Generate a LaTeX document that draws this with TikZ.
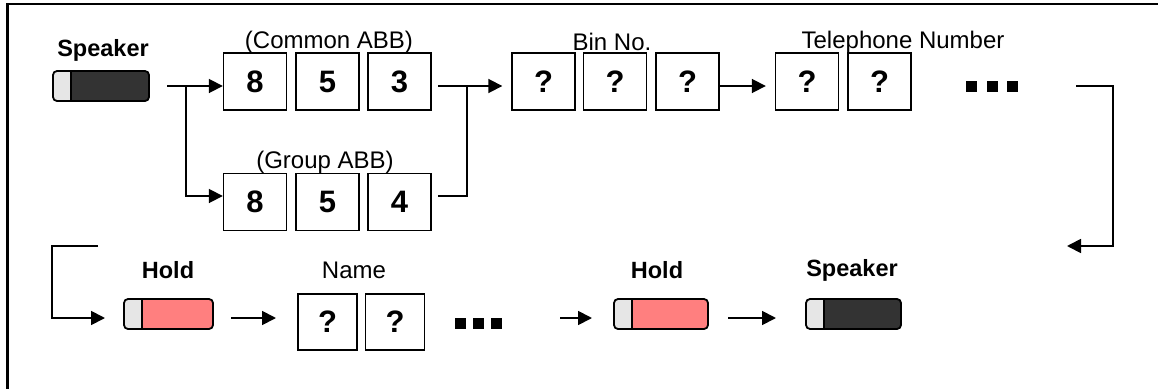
\documentclass[tikz,border=0pt]{standalone}
\usepackage{fontspec}
\setmainfont{Liberation Sans}
\usetikzlibrary{arrows.meta}
\definecolor{keylight}{HTML}{E6E6E6}
\definecolor{keydark}{HTML}{333333}
\definecolor{keyred}{HTML}{FF7F7F}
\tikzset{
  x=1pt, y=-1pt,
  lbl/.style={font=\fontsize{24}{24}\selectfont, inner sep=0pt},
  blbl/.style={font=\bfseries\fontsize{23.5}{23.5}\selectfont, inner sep=0pt},
  digit/.style={draw, line width=1.4pt, minimum width=63pt, minimum height=57pt,
    inner sep=0pt, font=\bfseries\fontsize{31}{31}\selectfont},
  namebox/.style={digit, minimum width=59pt, minimum height=56pt},
  key/.style={draw, line width=1.8pt, rounded corners=4pt, minimum height=30pt,
    inner sep=0pt,
    path picture={
      \fill[keylight] (path picture bounding box.south west) rectangle
        ([xshift=18pt]path picture bounding box.north west);
      \fill[#1] ([xshift=18pt]path picture bounding box.south west) rectangle
        (path picture bounding box.north east);
      \draw[line width=1.6pt] ([xshift=18pt]path picture bounding box.south west) --
        ([xshift=18pt]path picture bounding box.north west);
    }},
  arr/.style={line width=1.8pt, -{Triangle[length=14pt, width=14pt]}},
  conn/.style={line width=1.8pt},
  dot/.style={fill=black, minimum width=11pt, minimum height=11pt, inner sep=0pt},
  frame/.style={line width=2.5pt}
}
\begin{document}
\begin{tikzpicture}
\useasboundingbox (0,0) rectangle (1158,388);
% outer frame (left and top edges)
\draw[frame] (7.5,390) -- (7.5,4) -- (1160,4);

% top row: speaker key and prefixes
\node[key=keydark, minimum width=96pt] (spk1) at (101,86) {};
\node[blbl] (spk1l) at (103,50) {Speaker};

\node[digit] (c1) at (255,81.5) {8};
\node[digit] (c2) at (327.5,81.5) {5};
\node[digit] (c3) at (399.5,81.5) {3};
\node[lbl] (cl) at (329,42) {(Common ABB)};

\node[digit] (g1) at (255,202) {8};
\node[digit] (g2) at (327.5,202) {5};
\node[digit] (g3) at (399.5,202) {4};
\node[lbl] (gl) at (325,162) {(Group ABB)};

\node[digit] (b1) at (543.5,81.5) {?};
\node[digit] (b2) at (615,81.5) {?};
\node[digit] (b3) at (687.5,81.5) {?};
\node[lbl] (bl) at (612,42) {Bin No.};

\node[digit] (t1) at (807,81.5) {?};
\node[digit] (t2) at (879.5,81.5) {?};
\node[lbl] (tl) at (903,42) {Telephone Number};

\node[dot] (da1) at (971.5,86) {};
\node[dot] (da2) at (992,86) {};
\node[dot] (da3) at (1012,86) {};

% bottom row: hold, name, hold, speaker
\node[key=keyred, minimum width=89pt] (h1) at (168.5,314) {};
\node[blbl] (h1l) at (168,270) {Hold};

\node[namebox] (n1) at (327.5,322) {?};
\node[namebox] (n2) at (395,322) {?};
\node[lbl] (nl) at (354,270) {Name};

\node[dot] (db1) at (460,323.5) {};
\node[dot] (db2) at (478.5,323.5) {};
\node[dot] (db3) at (496,323.5) {};

\node[key=keyred, minimum width=94pt] (h2) at (661,314) {};
\node[blbl] (h2l) at (657,270) {Hold};

\node[key=keydark, minimum width=95pt] (spk2) at (853.5,314) {};
\node[blbl] (spk2l) at (852,270) {Speaker};

% connector coordinates
\coordinate (s1) at (167,86);
\coordinate (j1) at (186,86);
\coordinate (j1b) at (186,196);
\coordinate (m1) at (438,86);
\coordinate (m2) at (438,196);
\coordinate (j2) at (467,86);
\coordinate (j2b) at (467,196);
\coordinate (r1) at (1076,86);
\coordinate (r2) at (1113,86);
\coordinate (r3) at (1113,246);
\coordinate (r4) at (1067,246);
\coordinate (l1) at (98,246);
\coordinate (l2) at (52,246);
\coordinate (l3) at (52,318);
\coordinate (l4) at (105,318);
\coordinate (k1) at (231,318);
\coordinate (k2) at (276,318);
\coordinate (k3) at (560,318);
\coordinate (k4) at (592,318);
\coordinate (k5) at (728,318);
\coordinate (k6) at (776,318);

% top connectors
\draw[arr] (s1) -- (c1.west |- s1);
\draw[arr] (j1) -- (j1b) -- (g1.west |- j1b);
\draw[conn] (m2) -- (j2b) -- (j2);
\draw[arr] (m1) -- ([xshift=-9pt]b1.west |- m1);
\draw[arr] (b3.east |- m1) -- ([xshift=-9pt]t1.west |- m1);
\draw[arr] (r1) -- (r2) -- (r3) -- (r4);

% bottom connectors
\draw[arr] (l1) -- (l2) -- (l3) -- (l4);
\draw[arr] (k1) -- (k2);
\draw[arr] (k3) -- (k4);
\draw[arr] (k5) -- (k6);
\end{tikzpicture}
\end{document}
